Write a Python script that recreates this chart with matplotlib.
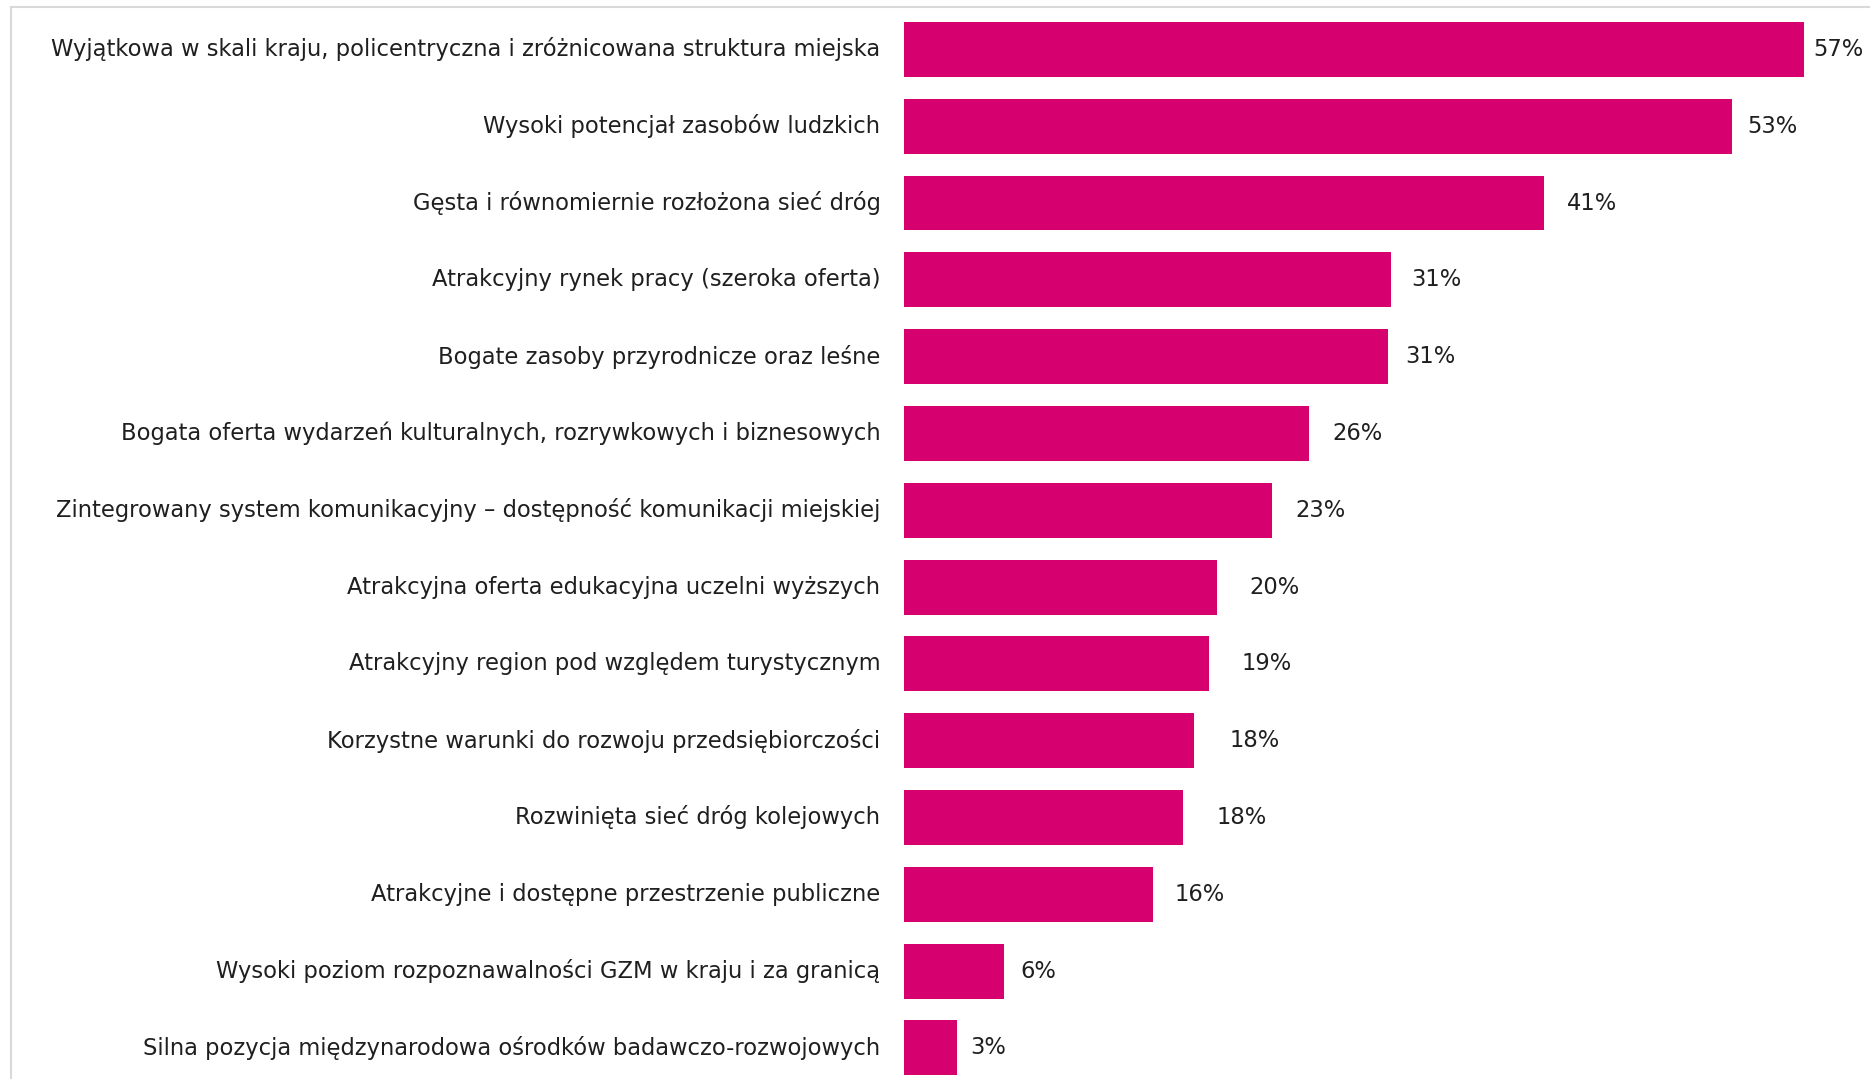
import matplotlib.pyplot as plt
from matplotlib.lines import Line2D

kategorie = [
    "Wyjątkowa w skali kraju, policentryczna i zróżnicowana struktura miejska",
    "Wysoki potencjał zasobów ludzkich",
    "Gęsta i równomiernie rozłożona sieć dróg",
    "Atrakcyjny rynek pracy (szeroka oferta)",
    "Bogate zasoby przyrodnicze oraz leśne",
    "Bogata oferta wydarzeń kulturalnych, rozrywkowych i biznesowych",
    "Zintegrowany system komunikacyjny – dostępność komunikacji miejskiej",
    "Atrakcyjna oferta edukacyjna uczelni wyższych",
    "Atrakcyjny region pod względem turystycznym",
    "Korzystne warunki do rozwoju przedsiębiorczości",
    "Rozwinięta sieć dróg kolejowych",
    "Atrakcyjne i dostępne przestrzenie publiczne",
    "Wysoki poziom rozpoznawalności GZM w kraju i za granicą",
    "Silna pozycja międzynarodowa ośrodków badawczo-rozwojowych",
]
wartosci = [57.5, 52.9, 40.9, 31.1, 30.9, 25.9, 23.5, 20.0, 19.5, 18.5, 17.8, 15.9, 6.4, 3.4]
etykiety = ["57%", "53%", "41%", "31%", "31%", "26%", "23%", "20%", "19%", "18%", "18%", "16%", "6%", "3%"]

# odstep etykiety od konca slupka (px), jak w oryginale
odstepy = [11, 17, 25, 22, 19, 25, 25, 34, 34, 38, 36, 23, 18, 15]

W, H = 1870, 1079
fig = plt.figure(figsize=(W / 100, H / 100), dpi=100)
fig.patch.set_facecolor("white")

lewo = 904
ax = fig.add_axes([lewo / W, 0, 1 - lewo / W, (H - 11) / H])
y = list(range(len(kategorie)))
ax.barh(y, wartosci, height=0.715, color="#D7006F")
ax.set_xlim(0, (W - lewo) / 15.65)
ax.set_ylim(13.405, -0.5)
ax.axis("off")

for i in y:
    ax.annotate(etykiety[i], (wartosci[i], i), xytext=(odstepy[i] * 0.72 - 1.2, 0),
                textcoords="offset points", ha="left", va="center",
                fontsize=16.3, color="#1f1f1f")
    ax.annotate(kategorie[i], (0, i), xytext=(-17, 0), textcoords="offset points",
                ha="right", va="center", fontsize=16.3, color="#1f1f1f")

# szara ramka
fig.add_artist(Line2D([11 / W, 1], [1 - 7 / H, 1 - 7 / H], color="#d9d9d9", lw=1.5))
fig.add_artist(Line2D([11 / W, 11 / W], [0, 1 - 7 / H], color="#d9d9d9", lw=1.5))

fig.savefig("out.png", dpi=100)
